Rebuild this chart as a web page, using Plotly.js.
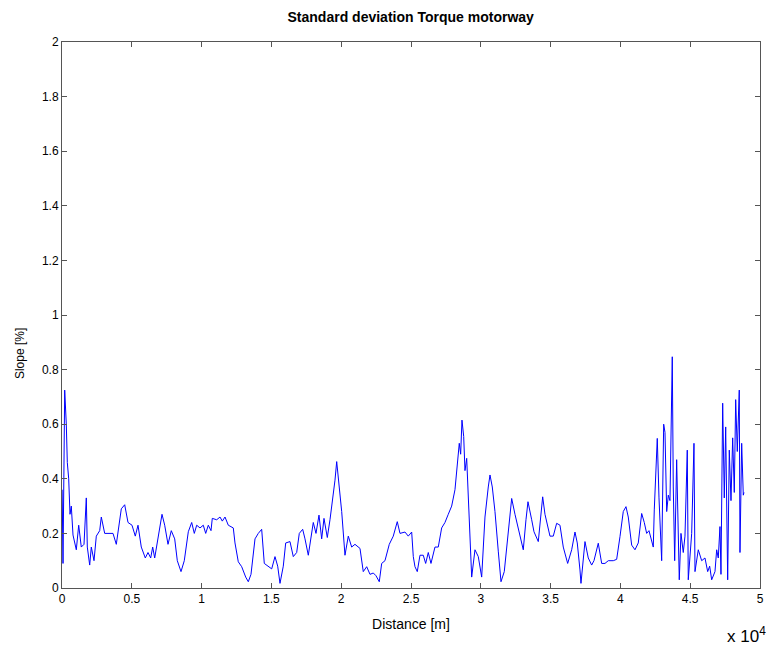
<!DOCTYPE html>
<html>
<head>
<meta charset="utf-8">
<script src="https://cdn.plot.ly/plotly-3.0.1.min.js"></script>
<style>html,body{margin:0;padding:0;background:#fff;}#chart{width:772px;height:650px;}</style>
</head>
<body>
<div id="chart"></div>
<script>
// Distance [m]
var distance = [10,72,193,308,380,480,573,666,788,910,1024,1196,1382,1576,1741,1812,1984,2099,2292,2457,2700,2815,3059,3295,3653,3890,4248,4491,4728,5014,5250,5444,5680,5967,6160,6354,6497,6640,6876,7163,7356,7593,7829,8073,8259,
8524,8760,9047,9291,9477,9649,9885,10121,10293,10480,10673,10766,11081,11318,11482,11676,11912,12270,12392,12628,12872,13158,13345,13538,13825,14061,14304,14491,14777,15021,15257,15451,15615,15852,16024,
16331,16568,16811,16998,17241,17406,17643,18001,18194,18409,18602,18767,19004,19197,19390,19555,19677,19863,20035,20271,20508,20751,20987,21346,21582,21826,22062,22299,22492,22728,22900,23136,23444,23731,24017,24211,
24569,24805,25049,25164,25285,25450,25643,25879,26051,26237,26431,26717,26954,27197,27434,27670,27913,28150,28343,28458,28558,28652,28774,28867,28989,29225,29347,29583,29820,30063,30299,30536,30658,30823,31016,31252,31446,31682,31969,32212,32448,32685,32878,
33043,33236,33380,33645,33810,34118,34290,34433,34597,34955,35192,35435,35672,35908,36223,36510,36746,36911,37104,37176,37462,37699,37942,38107,38415,38659,38895,39131,39490,39733,39970,40206,40399,40564,40808,
41044,41280,41524,41710,41882,42047,42240,42355,42427,42642,42764,42957,43100,43194,43316,43431,43551,43716,43788,43888,44031,44217,44339,44504,44626,44790,44862,45106,45271,45343,45579,45822,46058,46252,46395,46539,46775,46897,47011,47133,47205,47327,47442,47542,47685,47800,47922,48043,48158,48258,48373,48516,48566,48688,48803,48852];
// Slope [%]
var slope = [0.36,0.09,0.725,0.60,0.46,0.40,0.27,0.30,0.194,0.17,0.14,0.23,0.15,0.16,0.33,0.15,0.084,0.15,0.10,0.19,0.21,0.26,0.20,0.20,0.20,0.16,0.29,0.305,0.24,0.23,0.19,0.23,0.15,0.11,0.13,0.11,0.15,0.11,0.19,0.27,0.23,0.16,0.21,0.18,0.10,
0.06,0.10,0.206,0.24,0.20,0.23,0.22,0.23,0.20,0.23,0.21,0.255,0.25,0.26,0.245,0.26,0.23,0.22,0.165,0.096,0.078,0.04,0.023,0.05,0.18,0.20,0.215,0.09,0.08,0.07,0.115,0.08,0.017,0.08,0.165,
0.17,0.115,0.13,0.20,0.215,0.18,0.12,0.24,0.20,0.267,0.18,0.255,0.185,0.25,0.32,0.395,0.463,0.37,0.28,0.12,0.19,0.15,0.16,0.145,0.06,0.078,0.05,0.055,0.045,0.023,0.09,0.10,0.16,0.19,0.243,0.20,
0.205,0.19,0.205,0.115,0.078,0.06,0.12,0.12,0.09,0.13,0.09,0.15,0.15,0.22,0.24,0.27,0.30,0.36,0.47,0.53,0.49,0.615,0.555,0.43,0.475,0.146,0.04,0.14,0.115,0.04,0.26,0.37,0.414,0.37,0.28,0.135,0.023,0.06,0.20,0.328,0.27,0.22,0.18,
0.14,0.25,0.316,0.25,0.206,0.17,0.27,0.334,0.27,0.19,0.19,0.237,0.23,0.15,0.09,0.14,0.205,0.165,0.066,0.017,0.17,0.11,0.084,0.10,0.164,0.09,0.09,0.10,0.10,0.105,0.188,0.28,0.298,0.26,0.157,
0.14,0.165,0.273,0.24,0.20,0.21,0.165,0.15,0.286,0.548,0.33,0.10,0.60,0.57,0.28,0.34,0.32,0.847,0.37,0.10,0.47,0.03,0.20,0.13,0.19,0.505,0.03,0.20,0.53,0.06,0.14,0.10,0.11,0.06,0.08,0.03,0.06,0.14,0.11,0.225,0.05,0.677,0.33,0.59,0.03,0.505,0.32,0.55,0.35,0.69,0.50,0.725,0.13,0.53,0.34,0.35];
var xTickVals = [0,5000,10000,15000,20000,25000,30000,35000,40000,45000,50000];
var xTickText = ['0','0.5','1','1.5','2','2.5','3','3.5','4','4.5','5'];
var yTickVals = [0,0.2,0.4,0.6,0.8,1,1.2,1.4,1.6,1.8,2];

var font = {family:'"Liberation Sans", Arial, sans-serif', size:12, color:'#000'};
var axisCommon = {
  showline:true, mirror:'ticks', linecolor:'#555', linewidth:1,
  ticks:'inside', ticklen:5, tickcolor:'#555', tickwidth:1,
  showgrid:false, zeroline:false, tickfont:font
};
var trace = {x:distance, y:slope, type:'scatter', mode:'lines',
  line:{color:'#0000ff', width:1}, hoverinfo:'skip'};
var layout = {
  width:772, height:650, paper_bgcolor:'#fff', plot_bgcolor:'#fff',
  margin:{l:62, r:12, t:42, b:62},
  showlegend:false,
  title:{text:'<b>Standard deviation Torque motorway</b>', font:{family:font.family, size:14, color:'#000'}, x:0.532, xanchor:'center', y:0.974, yanchor:'middle'},
  xaxis:Object.assign({}, axisCommon, {range:[0,50000], tickvals:xTickVals, ticktext:xTickText,
    title:{text:'Distance [m]', font:{family:font.family, size:14, color:'#000'}, standoff:13}}),
  yaxis:Object.assign({}, axisCommon, {range:[0,2], tickvals:yTickVals}),
  annotations:[
    {text:'x 10<sup>4</sup>', xref:'paper', yref:'paper', x:1.012, y:-0.086, xanchor:'right', yanchor:'middle', showarrow:false, font:{family:font.family, size:17, color:'#000'}},
    {text:'Slope [%]', xref:'paper', yref:'paper', x:-0.06, y:0.4286, xanchor:'center', yanchor:'middle', textangle:-90, showarrow:false, font:font}
  ]
};
Plotly.newPlot('chart', [trace], layout, {staticPlot:true, displayModeBar:false});
</script>
</body>
</html>
